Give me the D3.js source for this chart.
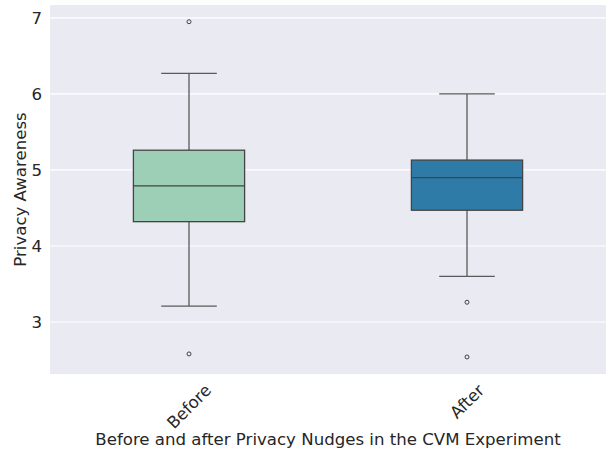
<!DOCTYPE html>
<html>
<head>
<meta charset="utf-8">
<script src="https://cdn.jsdelivr.net/npm/d3@7"></script>
<style>
  body { margin: 0; background: #fff; }
  text { font-family: "DejaVu Sans", sans-serif; fill: #262626; }
</style>
</head>
<body>
<div id="chart"></div>
<script>
// groups and their five-number summaries
var groups = ["Before", "After"]
var q1 = [4.32, 4.47]
var medians = [4.79, 4.90]
var q3 = [5.26, 5.13]
var whiskLow = [3.21, 3.60]
var whiskHigh = [6.27, 6.00]
var outliers = [[6.95, 2.58], [3.26, 2.54]]
var fills = ["#9dcfb7", "#2e7ba7"]
var yTicks = [3, 4, 5, 6, 7]

var W = 608, H = 452
var margin = { left: 50, right: 2, top: 5, bottom: 78 }
var width = W - margin.left - margin.right,
    height = H - margin.top - margin.bottom
var fs = "16.6px"

var svg = d3.select("#chart").append("svg")
    .attr("width", W)
    .attr("height", H)

var g = svg.append("g")
    .attr("transform", "translate(" + margin.left + "," + margin.top + ")")

var x = d3.scaleBand()
    .domain(groups)
    .range([0, width])

var y = d3.scaleLinear()
    .domain([2.316, 7.17])
    .range([height, 0])

g.append("rect")
    .attr("width", width)
    .attr("height", height)
    .attr("fill", "#eaeaf2")

// grid
g.selectAll(".grid")
    .data(yTicks)
    .enter()
        .append("line")
        .attr("x1", 0)
        .attr("x2", width)
        .attr("y1", d => y(d))
        .attr("y2", d => y(d))
        .attr("stroke", "#fff")
        .attr("stroke-width", 1.2)

// y tick labels
g.selectAll(".ytick")
    .data(yTicks)
    .enter()
        .append("text")
        .attr("x", -8)
        .attr("y", d => y(d))
        .attr("dy", "0.36em")
        .attr("text-anchor", "end")
        .attr("font-size", fs)
        .text(d => d)

var boxW = x.bandwidth() * 0.4
var data = groups.map((k, i) => ({
    key: k, q1: q1[i], med: medians[i], q3: q3[i],
    lo: whiskLow[i], hi: whiskHigh[i], out: outliers[i], fill: fills[i]
}))

var boxes = g.selectAll(".box")
    .data(data)
    .enter()
        .append("g")
        .attr("transform", d => "translate(" + (x(d.key) + x.bandwidth() / 2) + ",0)")

var whiskColor = "#5a5a5a"
boxes.append("line")
    .attr("y1", d => y(d.q3)).attr("y2", d => y(d.hi))
    .attr("stroke", whiskColor).attr("stroke-width", 1.3)
boxes.append("line")
    .attr("y1", d => y(d.q1)).attr("y2", d => y(d.lo))
    .attr("stroke", whiskColor).attr("stroke-width", 1.3)
boxes.append("line")
    .attr("x1", -boxW / 4).attr("x2", boxW / 4)
    .attr("y1", d => y(d.hi)).attr("y2", d => y(d.hi))
    .attr("stroke", whiskColor).attr("stroke-width", 1.3)
boxes.append("line")
    .attr("x1", -boxW / 4).attr("x2", boxW / 4)
    .attr("y1", d => y(d.lo)).attr("y2", d => y(d.lo))
    .attr("stroke", whiskColor).attr("stroke-width", 1.3)

boxes.append("rect")
    .attr("x", -boxW / 2)
    .attr("width", boxW)
    .attr("y", d => y(d.q3))
    .attr("height", d => y(d.q1) - y(d.q3))
    .attr("fill", d => d.fill)
    .attr("stroke", "#444")
    .attr("stroke-width", 1.3)

boxes.append("line")
    .attr("x1", -boxW / 2).attr("x2", boxW / 2)
    .attr("y1", d => y(d.med)).attr("y2", d => y(d.med))
    .attr("stroke", "#444").attr("stroke-width", 1.3)

boxes.selectAll(".out")
    .data(d => d.out)
    .enter()
        .append("circle")
        .attr("cy", d => y(d))
        .attr("r", 2)
        .attr("fill", "none")
        .attr("stroke", "#444")
        .attr("stroke-width", 1)

// rotated x tick labels, rotated bbox top just under the axis
var labelTop = height + 9
g.selectAll(".xtick")
    .data(groups)
    .enter()
        .append("text")
        .attr("font-size", fs)
        .attr("text-anchor", "middle")
        .attr("dy", "0.35em")
        .text(d => d)
        .each(function(d){
            var w = this.getComputedTextLength()
            var h = 12
            var bh = (w + h) * Math.SQRT1_2
            var cx = x(d) + x.bandwidth() / 2
            var cy = labelTop + bh / 2
            d3.select(this).attr("transform", "translate(" + cx + "," + cy + ") rotate(-45)")
        })

svg.append("text")
    .attr("x", margin.left + width / 2)
    .attr("y", 445)
    .attr("text-anchor", "middle")
    .attr("font-size", fs)
    .text("Before and after Privacy Nudges in the CVM Experiment")

svg.append("text")
    .attr("transform", "translate(26," + (margin.top + height / 2) + ") rotate(-90)")
    .attr("text-anchor", "middle")
    .attr("font-size", fs)
    .text("Privacy Awareness")
</script>
</body>
</html>
